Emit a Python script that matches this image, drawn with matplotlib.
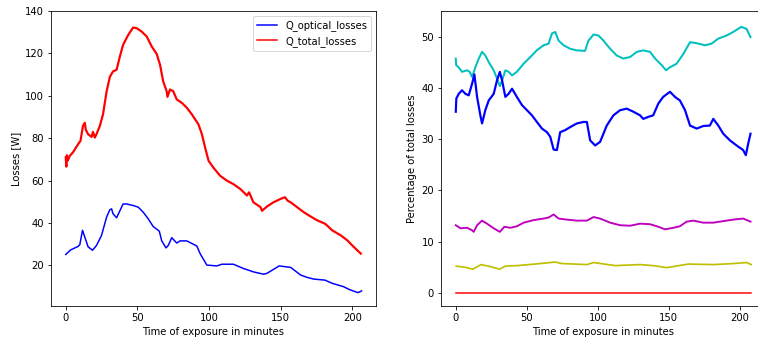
import matplotlib
matplotlib.use("Agg")
import matplotlib.pyplot as plt

# Left panel: losses [W]
opt_t = [0, 3.3, 8.6, 9.8, 11.7, 15.6, 18.7, 21.5, 25, 28.5, 30.8, 32, 33, 35.5, 40, 42.5, 47, 50.6, 54,
         57.6, 61, 65.3, 67, 70, 71.6, 74, 77.5, 79.8, 84.5, 91.5, 93.8, 98.5, 105.5, 109, 117, 124, 131,
         138, 140.5, 149, 157, 164, 168.5, 173, 181, 186, 194, 197.7, 204, 206.5]
opt_v = [25.2, 27.3, 29, 29.8, 36.6, 28.8, 27.2, 29.5, 34.2, 42.8, 46.3, 46.7, 44.4, 42.5, 49, 49, 48.3, 47.5,
         45.2, 42, 38.4, 36.2, 31.6, 28.3, 29.5, 33.1, 30.6, 31.6, 31.6, 29.2, 25.6, 20.2, 19.8, 20.6, 20.6,
         18.6, 17, 15.9, 16.3, 19.8, 19.1, 15.5, 14.4, 13.6, 13.1, 11.6, 10, 8.75, 7.2, 8]

tot_t = [0, 0.4, 0.8, 1.5, 2.8, 5, 8.6, 10.3, 12, 13.3, 14, 15.6, 18, 19, 20.3, 21.5, 23.8, 26, 28.5, 30.8,
         33, 35.5, 37.8, 40, 43.6, 47, 49.5, 53, 56.5, 60, 63.5, 65.8, 68, 70.5, 71, 72.8, 75, 77.5, 81,
         84.5, 88, 92.6, 95, 97.3, 99.7, 103, 107.8, 112.5, 117, 122, 126.5, 128, 131, 136, 137, 140.5,
         145, 150, 153, 155, 157, 161.5, 166, 171, 175.5, 181, 183, 186, 192, 196.5, 201, 206]
tot_v = [71, 66.6, 72, 69.5, 71.7, 73.3, 77.2, 78.8, 85.8, 87.3, 84, 81.9, 80.6, 83, 80.3, 82, 85.8, 91.2,
         102, 109, 111.5, 112.3, 118.6, 124, 128.7, 132.2, 131.9, 130.3, 128, 123.3, 119.7, 114.7, 106.9,
         102, 99.5, 103, 102.2, 98.3, 96.7, 94.4, 91.3, 86.6, 82, 75.6, 69.4, 66.2, 62.3, 60, 58.4, 56,
         53, 54.5, 49.8, 47.5, 45.8, 47.8, 49.8, 51.4, 52.2, 50.5, 49.8, 47.5, 45.2, 43.1, 41.3, 39.7,
         38.5, 36.6, 34.2, 31.9, 28.8, 25.6]

# Right panel: percentage of total losses
cy_t = [0, 0.3, 2, 4.4, 8, 9.8, 11.5, 13.8, 16.2, 18.5, 20.8, 23.2, 26.7, 29, 31, 32.6, 34.9, 37.2, 39.6,
        43, 47.8, 52.5, 57, 61.8, 65.3, 67.7, 70, 72.4, 75.9, 80.6, 85.2, 91, 93.4, 97, 100.5, 104, 108.7,
        113.3, 118, 122.7, 127.4, 132, 136.8, 140.3, 145, 148, 150.8, 155.5, 160.2, 164.9, 169.6, 175.4,
        180, 184.8, 190.6, 195.3, 201, 204.7, 207.5]
cy_v = [45.8, 44.5, 44.1, 43.2, 43.5, 43.2, 42.2, 44.1, 45.8, 47.1, 46.4, 45.1, 43.5, 41.9, 40.4, 41.5,
        43.5, 43.2, 42.5, 43.2, 44.8, 46.1, 47.4, 48.4, 48.7, 50.7, 51, 49.3, 48.4, 47.7, 47.4, 47.3, 49.3,
        50.5, 50.3, 49.3, 47.7, 46.4, 45.8, 46.1, 47.1, 47.4, 47.1, 45.8, 44.5, 43.5, 44.1, 44.8, 46.7,
        49, 48.8, 48.4, 48.7, 49.7, 50.3, 51, 52, 51.6, 50]

bl_t = [0, 0.4, 2.1, 4.4, 6.8, 9.1, 11.5, 13.1, 15, 17.3, 18.5, 20.8, 23.2, 26.7, 29, 31, 32.6, 34.9, 37.2,
        39.6, 43, 46.6, 50.1, 53.6, 57.1, 60.7, 64.2, 66.5, 68.9, 71.2, 73.5, 77, 80.6, 85.2, 89.9, 92.3,
        94.6, 98.1, 101.6, 106.3, 111, 115.7, 120.4, 125, 129.7, 132, 135.6, 139, 142.6, 146, 150.8,
        154.3, 157.8, 161.4, 164.9, 169.6, 174.2, 178.9, 181.3, 184.8, 188.3, 193, 197.7, 202.3, 204.2,
        205.9, 207.5]
bl_v = [35.4, 38, 38.9, 39.6, 38.9, 38.6, 40.9, 42.7, 38.3, 34.7, 33.1, 35.7, 37.6, 38.9, 41.5, 43.2, 41.5,
        38.3, 38.9, 39.9, 38.3, 36.7, 35.7, 34.7, 33.4, 32.1, 31.4, 30.5, 28, 27.9, 31.4, 31.8, 32.4, 33.1,
        33.4, 33.4, 29.8, 28.8, 29.5, 32.7, 34.7, 35.7, 36, 35.4, 34.7, 34, 34.4, 34.7, 37, 38.3, 39.3,
        38.3, 37.6, 35.7, 32.7, 32.1, 32.6, 32.7, 34, 32.7, 31.1, 29.8, 28.8, 27.9, 26.9, 29.2, 31.1]

mg_t = [0, 3.3, 8, 11.5, 12.6, 15, 18.5, 22, 26.7, 31, 34.2, 38.4, 43.1, 47.8, 54.8, 61.8, 65.3, 68.9, 72.4,
        78.2, 85.2, 92.3, 97, 101.6, 108.7, 115.7, 122.7, 129.7, 136.8, 142.6, 147.3, 153.2, 157.8, 162.5,
        167.2, 174.2, 181.3, 188.3, 195.3, 202.3, 207.5]
mg_v = [13.2, 12.6, 12.7, 12.2, 11.9, 13.2, 14.1, 13.5, 12.6, 11.9, 12.9, 12.7, 13, 13.7, 14.2, 14.5, 14.7,
        15.3, 14.5, 14.3, 14.1, 14.1, 14.8, 14.5, 13.7, 13.2, 13.1, 13.5, 13.4, 12.9, 12.4, 12.7, 13, 13.9,
        14.1, 13.7, 13.7, 14, 14.3, 14.5, 13.9]

yl_t = [0.3, 6.8, 12, 17.8, 24.4, 30.9, 34.9, 43.1, 59.5, 70, 74.7, 92.3, 97, 112.2, 129.8, 139, 148.5,
        163.7, 181.2, 195.3, 204.7, 208]
yl_v = [5.2, 4.96, 4.6, 5.5, 5.1, 4.6, 5.2, 5.3, 5.7, 6.0, 5.7, 5.5, 5.9, 5.3, 5.5, 5.3, 4.9, 5.6, 5.5,
        5.7, 5.9, 5.5]

rd_t = [0, 208]
rd_v = [0, 0]

W, H = 758, 342
fig = plt.figure(figsize=(W / 72, H / 72), dpi=72)

ax1 = fig.add_axes([51 / W, (H - 306) / H, 325 / W, 295 / H])
ax1.plot(opt_t, opt_v, color='b', lw=1.5, label='Q_optical_losses')
ax1.plot(tot_t, tot_v, color='r', lw=2.2, label='Q_total_losses')
ax1.set_xlim(-10.3, 216.6)
ax1.set_ylim(0.9, 140)
ax1.set_xlabel('Time of exposure in minutes')
ax1.set_ylabel('Losses [W]')
leg = ax1.legend(loc='upper right')
for h in leg.get_lines():
    h.set_linewidth(1.5)

ax2 = fig.add_axes([441 / W, (H - 306) / H, 325 / W, 295 / H])
ax2.plot(cy_t, cy_v, color='c', lw=2.0)
ax2.plot(bl_t, bl_v, color='b', lw=2.2)
ax2.plot(mg_t, mg_v, color='m', lw=1.9)
ax2.plot(yl_t, yl_v, color='y', lw=1.7)
ax2.plot(rd_t, rd_v, color='r', lw=1.5)
ax2.set_xlim(-10.4, 218.4)
ax2.set_ylim(-2.6, 55.1)
ax2.set_xlabel('Time of exposure in minutes')
ax2.set_ylabel('Percentage of total losses')

fig.savefig('out.png', dpi=72)
